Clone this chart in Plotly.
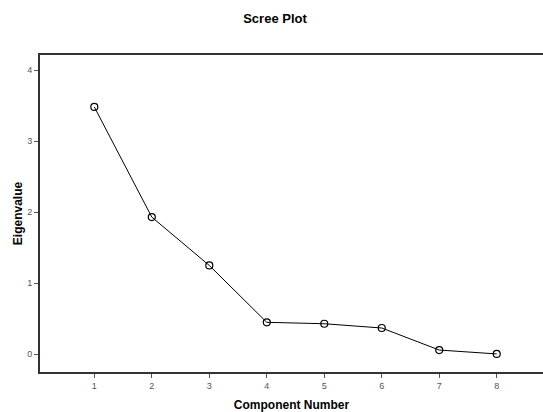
import plotly.graph_objects as go

components = [1, 2, 3, 4, 5, 6, 7, 8]
eigenvalues = [3.48, 1.93, 1.25, 0.45, 0.43, 0.37, 0.06, 0.005]
x_ticks = [1, 2, 3, 4, 5, 6, 7, 8]
y_ticks = [0, 1, 2, 3, 4]

fig = go.Figure()
fig.add_trace(go.Scatter(
    x=components, y=eigenvalues, mode="lines+markers",
    line=dict(color="black", width=1),
    marker=dict(symbol="circle-open", size=7, color="black", line=dict(width=1.2)),
    showlegend=False,
))

fig.update_layout(
    width=543, height=412,
    margin=dict(l=40, r=0, t=55, b=40),
    paper_bgcolor="white", plot_bgcolor="white",
    font=dict(family="Liberation Sans, Arial, sans-serif", color="black"),
    title=dict(text="<b>Scree Plot</b>", x=275/543, xanchor="center", y=1-18/412, yanchor="middle",
               font=dict(size=13, color="black")),
    xaxis=dict(
        range=[0.055, 8.805], tickvals=x_ticks, ticktext=[str(v) for v in x_ticks],
        showgrid=False, zeroline=False,
        showline=True, linecolor="#333", linewidth=2, mirror=True,
        ticks="outside", ticklen=4, tickcolor="#555", tickwidth=1,
        tickfont=dict(size=9, color="#555"),
        title=dict(text="<b>Component Number</b>", font=dict(size=12, color="black"), standoff=12),
    ),
    yaxis=dict(
        range=[-0.249, 4.211], tickvals=y_ticks, ticktext=[str(v) for v in y_ticks],
        showgrid=False, zeroline=False,
        showline=True, linecolor="#333", linewidth=2,
        ticks="outside", ticklen=4, tickcolor="#555", tickwidth=1,
        tickfont=dict(size=9, color="#555"),
        title=dict(text="<b>Eigenvalue</b>", font=dict(size=12, color="black"), standoff=2),
    ),
)

fig.write_html("out.html")
